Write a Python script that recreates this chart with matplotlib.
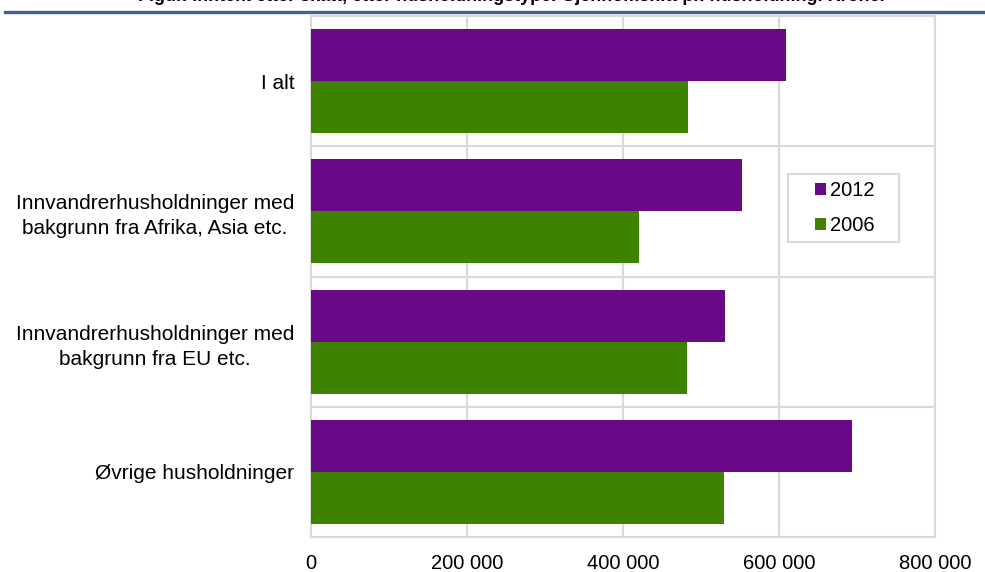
import numpy as np
import matplotlib.pyplot as plt
from matplotlib.lines import Line2D
from matplotlib.patches import Rectangle

plt.rcParams['font.family'] = ['Liberation Sans', 'DejaVu Sans']

# Data (kroner)
kategorier = ['I alt',
              'Innvandrerhusholdninger med\nbakgrunn fra Afrika, Asia etc.',
              'Innvandrerhusholdninger med\nbakgrunn fra EU etc.',
              'Øvrige husholdninger']
verdier_2012 = [609000, 553000, 531000, 694000]
verdier_2006 = [483000, 420000, 482000, 529000]
xticks = [0, 200000, 400000, 600000, 800000]
xtick_labels = ['0', '200 000', '400 000', '600 000', '800 000']
tittel = 'Figur. Inntekt etter skatt, etter husholdningstype. Gjennomsnitt pr. husholdning. Kroner'

fig = plt.figure(figsize=(9.85, 5.72), dpi=100)
ax = fig.add_axes([311/985, 35/572, 624/985, 521/572])

y = np.arange(len(kategorier))
h = 0.4
ax.barh(y - h/2, verdier_2012, height=h, color='#680A87', label='2012', zorder=3)
ax.barh(y + h/2, verdier_2006, height=h, color='#3F8200', label='2006', zorder=3)

ax.set_ylim(len(kategorier) - 0.5, -0.5)
ax.set_xlim(0, 800000)
ax.set_yticks(y)
ax.set_yticklabels(kategorier, fontsize=15, linespacing=1.4)
ax.set_yticks(np.arange(len(kategorier) + 1) - 0.5, minor=True)
ax.set_xticks(xticks)
ax.set_xticklabels(xtick_labels, fontsize=14.5)
ax.tick_params(axis='both', which='both', length=0)
ax.tick_params(axis='x', pad=12)
ax.tick_params(axis='y', pad=12)
for lab in ax.get_yticklabels():
    lab.set_horizontalalignment('right')
    lab.set_multialignment('center')

ax.grid(True, axis='x', which='major', color='#D9D9D9', linewidth=1.5, zorder=0)
ax.grid(True, axis='y', which='minor', color='#D9D9D9', linewidth=1.5, zorder=0)
for sp in ax.spines.values():
    sp.set_color('#D9D9D9')
    sp.set_linewidth(1.5)

# legendeboks
ax.add_patch(Rectangle((0.764, 0.566), 0.178, 0.1305, transform=ax.transAxes,
                       facecolor='white', edgecolor='#D9D9D9', linewidth=1.5, zorder=4))
leg = ax.legend(loc='center', bbox_to_anchor=(0.855, 0.631), fontsize=14.5,
                handlelength=0.55, handleheight=0.55, handletextpad=0.2,
                borderpad=0.2, labelspacing=0.8, frameon=False)
leg.set_zorder(5)

# tittel (avskåret øverst) og blå linje
fig.text(0.52, 1 - 1/572, tittel, ha='center', va='baseline', fontsize=13, fontweight='bold')
fig.add_artist(Line2D([5/985, 1], [1 - 12/572, 1 - 12/572], color='#41618F', linewidth=2.4))

fig.savefig('out.png', dpi=100)
